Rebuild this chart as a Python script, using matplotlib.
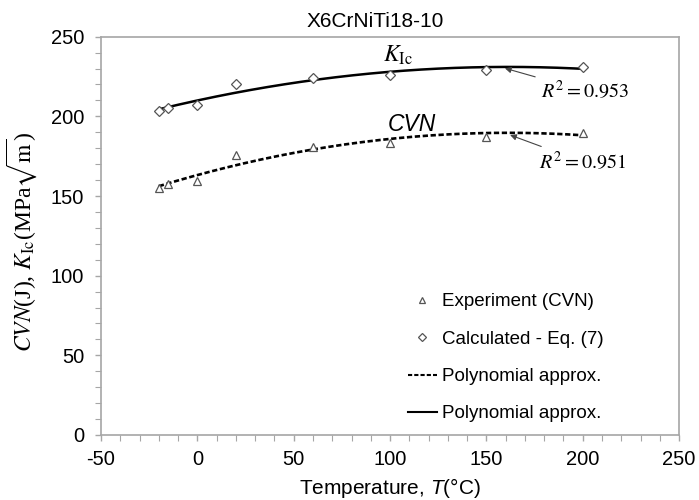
import numpy as np
import matplotlib
matplotlib.use("Agg")
import matplotlib.pyplot as plt
from matplotlib.lines import Line2D

plt.rcParams['font.family'] = ['Liberation Sans', 'DejaVu Sans']
plt.rcParams['mathtext.fontset'] = 'custom'
plt.rcParams['mathtext.rm'] = 'Liberation Sans'
plt.rcParams['mathtext.it'] = 'Liberation Sans:italic'
plt.rcParams['axes.unicode_minus'] = False

# data
temp = [-20, -15, 0, 20, 60, 100, 150, 200]
cvn_exp = [155.2, 157.6, 159.6, 175.8, 180.6, 183.5, 187.3, 189.8]
kic_calc = [203.6, 205.5, 207.2, 220.1, 223.9, 226.0, 229.1, 231.2]
r2_kic = 0.953
r2_cvn = 0.951

grey = '#a6a6a6'
mark = '#555555'

fig = plt.figure(figsize=(6.99, 5.0), dpi=100)
ax = fig.add_axes([0.1445, 0.13, 0.827, 0.7966])

# second order trend lines (like the spreadsheet "polynomial" trendline)
tt = np.linspace(min(temp), max(temp), 200)
p_cvn = np.polyfit(temp, cvn_exp, 2)
p_kic = np.polyfit(temp, kic_calc, 2)
ax.plot(tt, np.polyval(p_cvn, tt), color='black', lw=1.9, ls=(0, (2, 1)), zorder=3)
ax.plot(tt, np.polyval(p_kic, tt), color='black', lw=1.8, ls='-', zorder=3)

ax.plot(temp, cvn_exp, ls='none', marker='^', ms=6, mfc='white', mec=mark, mew=0.9, zorder=4)
ax.plot(temp, kic_calc, ls='none', marker='D', ms=5.5, mfc='white', mec=mark, mew=0.9, zorder=4)

ax.set_xlim(-50, 250)
ax.set_ylim(0, 250)
ax.set_xticks(np.arange(-50, 251, 50))
ax.set_yticks(np.arange(0, 251, 50))
ax.set_xticks(np.arange(-50, 251, 10), minor=True)
ax.set_yticks(np.arange(0, 251, 10), minor=True)
ax.tick_params(which='both', direction='out', color=grey, labelsize=14.5)
ax.tick_params(which='major', length=4, width=1)
ax.tick_params(which='minor', length=4, width=0.8)
ax.tick_params(axis='y', pad=8)
ax.tick_params(axis='x', pad=7)
for s in ax.spines.values():
    s.set_color(grey)
    s.set_linewidth(1.2)

ax.set_title('X6CrNiTi18-10', fontsize=15, x=0.475, pad=7)
ax.set_xlabel(r'Temperature, $T$(°C)', fontsize=15, labelpad=5)
ax.set_ylabel(r'$CVN$(J), $K_{\rm Ic}$(MPa$\sqrt{\rm m}$)', fontsize=17,
              fontfamily='Liberation Serif', math_fontfamily='stix')
ax.yaxis.set_label_coords(-0.108, 0.485)

# curve labels
ax.text(96.3, 234, r'$K_{\rm Ic}$', fontsize=17, math_fontfamily='stix')
ax.text(98.9, 191, 'CVN', fontsize=16.5, style='italic')

ax.annotate(r'$R^2 = {:.3f}$'.format(r2_kic), xy=(159.6, 230.2), xytext=(201, 216),
            fontsize=14.5, math_fontfamily='stix', ha='center', va='center',
            arrowprops=dict(arrowstyle='-|>', color='#444444', lw=0.8,
                            mutation_scale=9, shrinkA=2, shrinkB=0))
ax.annotate(r'$R^2 = {:.3f}$'.format(r2_cvn), xy=(162.3, 188.3), xytext=(200, 171.5),
            fontsize=14.5, math_fontfamily='stix', ha='center', va='center',
            arrowprops=dict(arrowstyle='-|>', color='#444444', lw=0.8,
                            mutation_scale=9, shrinkA=2, shrinkB=0))

handles = [
    Line2D([], [], ls='none', marker='^', ms=5, mfc='white', mec=mark, mew=0.9),
    Line2D([], [], ls='none', marker='D', ms=4.5, mfc='white', mec=mark, mew=0.9),
    Line2D([], [], color='black', lw=1.5, ls=(0, (2, 1))),
    Line2D([], [], color='black', lw=1.5, ls='-'),
]
labels = ['Experiment (CVN)', 'Calculated - Eq. (7)', 'Polynomial approx.', 'Polynomial approx.']
ax.legend(handles, labels, loc='upper left', bbox_to_anchor=(0.531, 0.356), frameon=False,
          fontsize=13.5, handlelength=1.55, handletextpad=0.25, labelspacing=1.08,
          borderpad=0, borderaxespad=0)

fig.savefig('out.png', dpi=100)
